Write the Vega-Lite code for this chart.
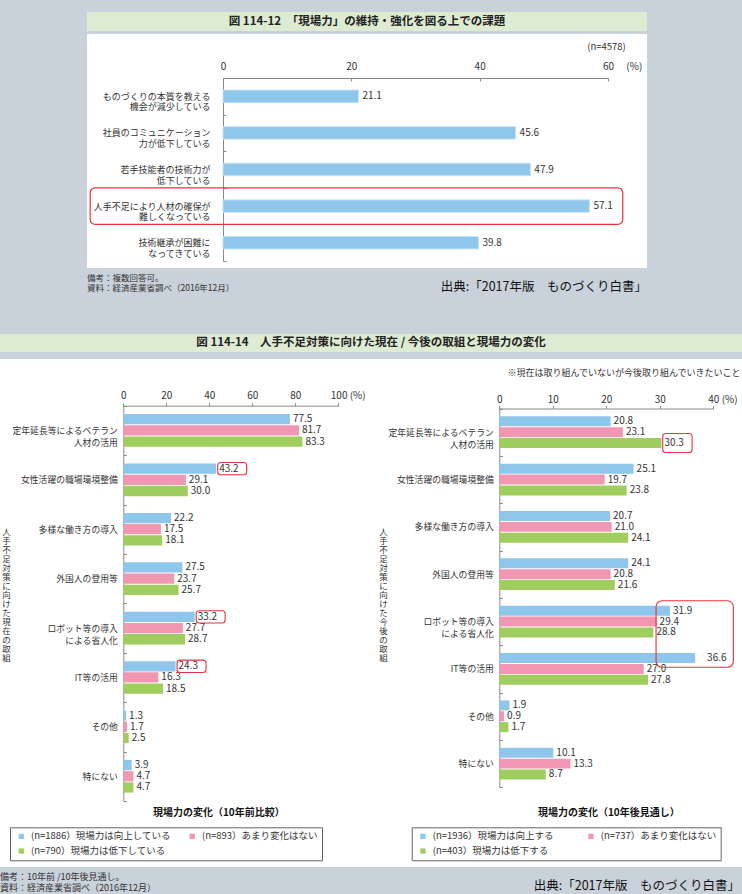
{
  "$schema": "https://vega.github.io/schema/vega-lite/v6.json",
  "background": "#c9d1da",
  "padding": {"left": 0, "top": 12, "right": 0, "bottom": 3},
  "config": {
    "font": "Noto Sans CJK JP",
    "view": {"stroke": null},
    "axis": {"grid": false}
  },
  "datasets": {
    "top": [
      {"item": "ものづくりの本質を教える|機会が減少している", "value": 21.1},
      {"item": "社員のコミュニケーション|力が低下している", "value": 45.6},
      {"item": "若手技能者の技術力が|低下している", "value": 47.9},
      {"item": "人手不足により人材の確保が|難しくなっている", "value": 57.1},
      {"item": "技術継承が困難に|なってきている", "value": 39.8}
    ],
    "now": [
      {"item": "定年延長等によるベテラン|人材の活用", "group": "(n=1886）現場力は向上している", "value": 77.5},
      {"item": "定年延長等によるベテラン|人材の活用", "group": "(n=893）あまり変化はない", "value": 81.7},
      {"item": "定年延長等によるベテラン|人材の活用", "group": "(n=790）現場力は低下している", "value": 83.3},
      {"item": "女性活躍の職場環境整備", "group": "(n=1886）現場力は向上している", "value": 43.2},
      {"item": "女性活躍の職場環境整備", "group": "(n=893）あまり変化はない", "value": 29.1},
      {"item": "女性活躍の職場環境整備", "group": "(n=790）現場力は低下している", "value": 30.0},
      {"item": "多様な働き方の導入", "group": "(n=1886）現場力は向上している", "value": 22.2},
      {"item": "多様な働き方の導入", "group": "(n=893）あまり変化はない", "value": 17.5},
      {"item": "多様な働き方の導入", "group": "(n=790）現場力は低下している", "value": 18.1},
      {"item": "外国人の登用等", "group": "(n=1886）現場力は向上している", "value": 27.5},
      {"item": "外国人の登用等", "group": "(n=893）あまり変化はない", "value": 23.7},
      {"item": "外国人の登用等", "group": "(n=790）現場力は低下している", "value": 25.7},
      {"item": "ロボット等の導入|による省人化", "group": "(n=1886）現場力は向上している", "value": 33.2},
      {"item": "ロボット等の導入|による省人化", "group": "(n=893）あまり変化はない", "value": 27.7},
      {"item": "ロボット等の導入|による省人化", "group": "(n=790）現場力は低下している", "value": 28.7},
      {"item": "IT等の活用", "group": "(n=1886）現場力は向上している", "value": 24.3},
      {"item": "IT等の活用", "group": "(n=893）あまり変化はない", "value": 16.3},
      {"item": "IT等の活用", "group": "(n=790）現場力は低下している", "value": 18.5},
      {"item": "その他", "group": "(n=1886）現場力は向上している", "value": 1.3},
      {"item": "その他", "group": "(n=893）あまり変化はない", "value": 1.7},
      {"item": "その他", "group": "(n=790）現場力は低下している", "value": 2.5},
      {"item": "特にない", "group": "(n=1886）現場力は向上している", "value": 3.9},
      {"item": "特にない", "group": "(n=893）あまり変化はない", "value": 4.7},
      {"item": "特にない", "group": "(n=790）現場力は低下している", "value": 4.7}
    ],
    "next": [
      {"item": "定年延長等によるベテラン|人材の活用", "group": "(n=1936）現場力は向上する", "value": 20.8},
      {"item": "定年延長等によるベテラン|人材の活用", "group": "(n=737）あまり変化はない", "value": 23.1},
      {"item": "定年延長等によるベテラン|人材の活用", "group": "(n=403）現場力は低下する", "value": 30.3},
      {"item": "女性活躍の職場環境整備", "group": "(n=1936）現場力は向上する", "value": 25.1},
      {"item": "女性活躍の職場環境整備", "group": "(n=737）あまり変化はない", "value": 19.7},
      {"item": "女性活躍の職場環境整備", "group": "(n=403）現場力は低下する", "value": 23.8},
      {"item": "多様な働き方の導入", "group": "(n=1936）現場力は向上する", "value": 20.7},
      {"item": "多様な働き方の導入", "group": "(n=737）あまり変化はない", "value": 21.0},
      {"item": "多様な働き方の導入", "group": "(n=403）現場力は低下する", "value": 24.1},
      {"item": "外国人の登用等", "group": "(n=1936）現場力は向上する", "value": 24.1},
      {"item": "外国人の登用等", "group": "(n=737）あまり変化はない", "value": 20.8},
      {"item": "外国人の登用等", "group": "(n=403）現場力は低下する", "value": 21.6},
      {"item": "ロボット等の導入|による省人化", "group": "(n=1936）現場力は向上する", "value": 31.9},
      {"item": "ロボット等の導入|による省人化", "group": "(n=737）あまり変化はない", "value": 29.4},
      {"item": "ロボット等の導入|による省人化", "group": "(n=403）現場力は低下する", "value": 28.8},
      {"item": "IT等の活用", "group": "(n=1936）現場力は向上する", "value": 36.6},
      {"item": "IT等の活用", "group": "(n=737）あまり変化はない", "value": 27.0},
      {"item": "IT等の活用", "group": "(n=403）現場力は低下する", "value": 27.8},
      {"item": "その他", "group": "(n=1936）現場力は向上する", "value": 1.9},
      {"item": "その他", "group": "(n=737）あまり変化はない", "value": 0.9},
      {"item": "その他", "group": "(n=403）現場力は低下する", "value": 1.7},
      {"item": "特にない", "group": "(n=1936）現場力は向上する", "value": 10.1},
      {"item": "特にない", "group": "(n=737）あまり変化はない", "value": 13.3},
      {"item": "特にない", "group": "(n=403）現場力は低下する", "value": 8.7}
    ]
  },
  "bounds": "full",
  "spacing": 41,
  "vconcat": [
    {
      "bounds": "full",
      "spacing": 0,
      "title": {"text": "出典:「2017年版　ものづくり白書」", "orient": "bottom", "anchor": "end", "frame": "bounds", "offset": -12, "fontSize": 12.5, "fontWeight": "normal", "color": "#111"},
      "hconcat": [
        {
          "width": 87, "height": 10,
          "view": {"stroke": null},
          "data": {"values": [{}]},
          "mark": {"type": "point", "opacity": 0}
        },
        {
          "bounds": "flush",
          "spacing": 3,
          "vconcat": [
            {
              "width": 560, "height": 19,
              "view": {"fill": "#ddebd2", "stroke": null},
              "data": {"values": [{"t": "図 114-12　「現場力」の維持・強化を図る上での課題"}]},
              "mark": {"type": "text", "fontSize": 11.5, "fontWeight": "bold", "color": "#222"},
              "encoding": {"text": {"field": "t", "type": "nominal"}}
            },
            {
              "width": 560, "height": 234,
              "view": {"fill": "white", "stroke": null},
              "data": {"name": "top"},
              "title": {"text": ["備考：複数回答可。", "資料：経済産業省調べ（2016年12月）"], "orient": "bottom", "anchor": "start", "frame": "group", "offset": 6, "fontSize": 8.5, "fontWeight": "normal", "color": "#333", "lineHeight": 10},
              "layer": [
                {
                  "mark": {"type": "bar", "size": 12.4, "color": "#8fc6ec", "stroke": "#bfe0f6", "strokeWidth": 1},
                  "encoding": {
                    "y": {
                      "field": "item", "type": "nominal", "sort": null,
                      "scale": {"domain": ["ものづくりの本質を教える|機会が減少している", "社員のコミュニケーション|力が低下している", "若手技能者の技術力が|低下している", "人手不足により人材の確保が|難しくなっている", "技術継承が困難に|なってきている"], "range": [44, 227], "paddingInner": 0, "paddingOuter": 0},
                      "axis": {"orient": "left", "offset": -136, "domainColor": "#8a8a8a", "tickBand": "extent", "tickSize": -3, "tickColor": "#8a8a8a", "labelFontSize": 9, "labelColor": "#333", "labelPadding": 16, "labelLineHeight": 10.5, "labelExpr": "split(datum.label, '|')", "labelLimit": 220,
                        "title": "(n=4578)", "titleAngle": 0, "titleX": 402.3, "titleY": 12, "titleAlign": "right", "titleBaseline": "middle", "titleFontSize": 9.5, "titleFontWeight": "normal", "titleColor": "#333"}
                    },
                    "x": {
                      "field": "value", "type": "quantitative",
                      "scale": {"domain": [0, 60], "range": [136, 521], "nice": false},
                      "axis": {"orient": "top", "offset": -44, "values": [0, 20, 40, 60], "domainColor": "#8a8a8a", "tickSize": -3, "tickColor": "#8a8a8a", "labelFontSize": 10, "labelColor": "#333", "labelPadding": 9.7, "labelFlush": false, "labelOverlap": false,
                        "labelExpr": "datum.value == 60 ? '60　 (%)' : datum.label",
                        "labelAlign": {"condition": {"test": "datum.value == 60", "value": "left"}, "value": "center"},
                        "labelOffset": {"condition": {"test": "datum.value == 60", "value": -5.5}, "value": 0},
                        "title": null}
                    }
                  }
                },
                {
                  "mark": {"type": "text", "align": "left", "baseline": "middle", "dx": 4, "fontSize": 10, "color": "#333"},
                  "encoding": {
                    "y": {"field": "item", "type": "nominal", "sort": null},
                    "x": {"field": "value", "type": "quantitative"},
                    "text": {"field": "value", "type": "quantitative", "format": ".1f"}
                  }
                },
                {
                  "data": {"values": [{}]},
                  "mark": {"type": "rect", "fill": "transparent", "stroke": "#e5333f", "strokeWidth": 1.2, "cornerRadius": 5},
                  "encoding": {
                    "y": {"datum": "人手不足により人材の確保が|難しくなっている", "type": "nominal"},
                    "x": {"datum": -20.7, "type": "quantitative"},
                    "x2": {"datum": 62.3}
                  }
                }
              ]
            }
          ]
        }
      ]
    },
    {
      "bounds": "full",
      "spacing": 3,
      "vconcat": [
        {
          "width": 742, "height": 18,
          "view": {"fill": "#ddebd2", "stroke": null},
          "data": {"values": [{"t": "図 114-14　人手不足対策に向けた現在 / 今後の取組と現場力の変化"}]},
          "mark": {"type": "text", "fontSize": 11.5, "fontWeight": "bold", "color": "#222"},
          "encoding": {"text": {"field": "t", "type": "nominal"}}
        },
        {
          "bounds": "flush",
          "spacing": 0,
          "title": {"text": "※現在は取り組んでいないが今後取り組んでいきたいこと", "orient": "top", "anchor": "end", "frame": "bounds", "offset": -22.5, "dx": -1.5, "fontSize": 9, "fontWeight": "normal", "color": "#333"},
          "resolve": {"scale": {"color": "independent", "x": "independent", "y": "independent", "yOffset": "independent"}},
          "hconcat": [
            {
              "width": 371, "height": 508,
              "view": {"fill": "white", "stroke": null},
              "data": {"name": "now"},
              "title": {"text": ["備考：10年前 /10年後見通し。", "資料：経済産業省調べ（2016年12月）"], "orient": "bottom", "anchor": "start", "frame": "group", "offset": 6, "fontSize": 9, "fontWeight": "normal", "color": "#333", "lineHeight": 10.5},
              "layer": [
                {
                  "mark": {"type": "bar"},
                  "encoding": {
                    "y": {
                      "field": "item", "type": "nominal", "sort": null,
                      "scale": {"domain": ["定年延長等によるベテラン|人材の活用", "女性活躍の職場環境整備", "多様な働き方の導入", "外国人の登用等", "ロボット等の導入|による省人化", "IT等の活用", "その他", "特にない"], "range": [46.7, 442], "paddingInner": 0, "paddingOuter": 0},
                      "axis": {"orient": "left", "offset": -123.3, "domainColor": "#8a8a8a", "tickBand": "extent", "tickSize": -3, "tickColor": "#8a8a8a", "labelFontSize": 8.8, "labelColor": "#333", "labelPadding": 9, "labelLineHeight": 12, "labelExpr": "split(datum.label, '|')", "labelLimit": 220,
                        "title": ["人", "手", "不", "足", "対", "策", "に", "向", "け", "た", "現", "在", "の", "取", "組"], "titleAngle": 0, "titleX": -117.3, "titleY": 168, "titleAlign": "center", "titleBaseline": "top", "titleFontSize": 8.5, "titleLineHeight": 9, "titleFontWeight": "normal", "titleColor": "#333"}
                    },
                    "yOffset": {"field": "group", "type": "nominal", "sort": null, "scale": {"domain": ["(n=1886）現場力は向上している", "(n=893）あまり変化はない", "(n=790）現場力は低下している"], "paddingInner": 0.08, "paddingOuter": 0.75}},
                    "x": {
                      "field": "value", "type": "quantitative",
                      "scale": {"domain": [0, 100], "range": [123.3, 338.3], "nice": false},
                      "axis": {"orient": "top", "offset": -46.7, "values": [0, 20, 40, 60, 80, 100], "domainColor": "#8a8a8a", "tickSize": 3, "tickColor": "#8a8a8a", "labelFontSize": 10, "labelColor": "#333", "labelPadding": 2.7, "labelFlush": false, "labelOverlap": false,
                        "labelExpr": "datum.value == 100 ? '100  (%)' : datum.label",
                        "labelAlign": {"condition": {"test": "datum.value == 100", "value": "left"}, "value": "center"},
                        "labelOffset": {"condition": {"test": "datum.value == 100", "value": -8}, "value": 0},
                        "title": "現場力の変化（10年前比較）", "titleX": 218.3, "titleY": 406.6, "titleAngle": 0, "titleAlign": "center", "titleBaseline": "middle", "titleFontSize": 10, "titleFontWeight": "bold", "titleColor": "#111"}
                    },
                    "color": {
                      "field": "group", "type": "nominal", "sort": null,
                      "scale": {"domain": ["(n=1886）現場力は向上している", "(n=893）あまり変化はない", "(n=790）現場力は低下している"], "range": ["#8fc6ec", "#f297b3", "#9fcd5e"]},
                      "legend": {"orient": "none", "legendX": 10, "legendY": 468.3, "direction": "horizontal", "title": " ", "titleOrient": "left", "titlePadding": 2.5, "titleFontSize": 10, "columns": 2, "symbolType": "square", "symbolSize": 28, "symbolStrokeWidth": 0, "labelFontSize": 9.5, "labelColor": "#333", "labelLimit": 300, "labelOffset": 5, "columnPadding": 16, "rowPadding": 4, "padding": 4, "strokeColor": "#666", "fillColor": "white"}
                    }
                  }
                },
                {
                  "mark": {"type": "text", "align": "left", "baseline": "middle", "dx": 3, "fontSize": 10, "color": "#333"},
                  "encoding": {
                    "y": {"field": "item", "type": "nominal", "sort": null},
                    "yOffset": {"field": "group", "type": "nominal", "sort": null},
                    "x": {"field": "value", "type": "quantitative"},
                    "text": {"field": "value", "type": "quantitative", "format": ".1f"}
                  }
                },
                {
                  "transform": [{"filter": "datum.group == '(n=1886）現場力は向上している' && (datum.item == '女性活躍の職場環境整備' || datum.item == 'ロボット等の導入|による省人化' || datum.item == 'IT等の活用')"}],
                  "mark": {"type": "rect", "fill": "transparent", "stroke": "#e5333f", "strokeWidth": 1.1, "cornerRadius": 3, "height": 12.3, "xOffset": 1.5, "x2Offset": 30.5},
                  "encoding": {
                    "y": {"field": "item", "type": "nominal", "sort": null},
                    "yOffset": {"field": "group", "type": "nominal", "sort": null},
                    "x": {"field": "value", "type": "quantitative"},
                    "x2": {"field": "value"}
                  }
                }
              ]
            },
            {
              "width": 371, "height": 508,
              "view": {"fill": "white", "stroke": null},
              "data": {"name": "next"},
              "title": {"text": "出典:「2017年版　ものづくり白書」", "orient": "bottom", "anchor": "end", "frame": "group", "offset": 13, "dx": -2, "fontSize": 12.5, "fontWeight": "normal", "color": "#111"},
              "layer": [
                {
                  "mark": {"type": "bar"},
                  "encoding": {
                    "y": {
                      "field": "item", "type": "nominal", "sort": null,
                      "scale": {"domain": ["定年延長等によるベテラン|人材の活用", "女性活躍の職場環境整備", "多様な働き方の導入", "外国人の登用等", "ロボット等の導入|による省人化", "IT等の活用", "その他", "特にない"], "range": [49.5, 428.3], "paddingInner": 0, "paddingOuter": 0},
                      "axis": {"orient": "left", "offset": -128.3, "domainColor": "#8a8a8a", "tickBand": "extent", "tickSize": -3, "tickColor": "#8a8a8a", "labelFontSize": 8.8, "labelColor": "#333", "labelPadding": 9, "labelLineHeight": 12, "labelExpr": "split(datum.label, '|')", "labelLimit": 220,
                        "title": ["人", "手", "不", "足", "対", "策", "に", "向", "け", "た", "今", "後", "の", "取", "組"], "titleAngle": 0, "titleX": -116.3, "titleY": 168, "titleAlign": "center", "titleBaseline": "top", "titleFontSize": 8.5, "titleLineHeight": 9, "titleFontWeight": "normal", "titleColor": "#333"}
                    },
                    "yOffset": {"field": "group", "type": "nominal", "sort": null, "scale": {"domain": ["(n=1936）現場力は向上する", "(n=737）あまり変化はない", "(n=403）現場力は低下する"], "paddingInner": 0.08, "paddingOuter": 0.72}},
                    "x": {
                      "field": "value", "type": "quantitative",
                      "scale": {"domain": [0, 40], "range": [128.3, 342.3], "nice": false},
                      "axis": {"orient": "top", "offset": -49.5, "values": [0, 10, 20, 30, 40], "domainColor": "#8a8a8a", "tickSize": 3, "tickColor": "#8a8a8a", "labelFontSize": 10, "labelColor": "#333", "labelPadding": 1, "labelFlush": false, "labelOverlap": false,
                        "labelExpr": "datum.value == 40 ? '40   (%)' : datum.label",
                        "labelAlign": {"condition": {"test": "datum.value == 40", "value": "left"}, "value": "center"},
                        "labelOffset": {"condition": {"test": "datum.value == 40", "value": -5.5}, "value": 0},
                        "title": "現場力の変化（10年後見通し）", "titleX": 237.3, "titleY": 403.8, "titleAngle": 0, "titleAlign": "center", "titleBaseline": "middle", "titleFontSize": 10, "titleFontWeight": "bold", "titleColor": "#111"}
                    },
                    "color": {
                      "field": "group", "type": "nominal", "sort": null,
                      "scale": {"domain": ["(n=1936）現場力は向上する", "(n=737）あまり変化はない", "(n=403）現場力は低下する"], "range": ["#8fc6ec", "#f297b3", "#9fcd5e"]},
                      "legend": {"orient": "none", "legendX": 40.7, "legendY": 468.3, "direction": "horizontal", "title": " ", "titleOrient": "left", "titlePadding": 2.5, "titleFontSize": 10, "columns": 2, "symbolType": "square", "symbolSize": 28, "symbolStrokeWidth": 0, "labelFontSize": 9.5, "labelColor": "#333", "labelLimit": 300, "labelOffset": 5, "columnPadding": 32, "rowPadding": 4, "padding": 4, "strokeColor": "#666", "fillColor": "white"}
                    }
                  }
                },
                {
                  "transform": [{"filter": "!(datum.item == 'IT等の活用' && datum.group == '(n=1936）現場力は向上する')"}],
                  "mark": {"type": "text", "align": "left", "baseline": "middle", "dx": 3, "fontSize": 10, "color": "#333"},
                  "encoding": {
                    "y": {"field": "item", "type": "nominal", "sort": null},
                    "yOffset": {"field": "group", "type": "nominal", "sort": null},
                    "x": {"field": "value", "type": "quantitative"},
                    "text": {"field": "value", "type": "quantitative", "format": ".1f"}
                  }
                },
                {
                  "transform": [{"filter": "datum.item == 'IT等の活用' && datum.group == '(n=1936）現場力は向上する'"}],
                  "mark": {"type": "text", "align": "left", "baseline": "middle", "dx": 12, "fontSize": 10, "color": "#333"},
                  "encoding": {
                    "y": {"field": "item", "type": "nominal", "sort": null},
                    "yOffset": {"field": "group", "type": "nominal", "sort": null},
                    "x": {"field": "value", "type": "quantitative"},
                    "text": {"field": "value", "type": "quantitative", "format": ".1f"}
                  }
                },
                {
                  "transform": [{"filter": "datum.group == '(n=403）現場力は低下する' && datum.item == '定年延長等によるベテラン|人材の活用'"}],
                  "mark": {"type": "rect", "fill": "transparent", "stroke": "#e5333f", "strokeWidth": 1.1, "cornerRadius": 3, "height": 19, "xOffset": 1.3, "x2Offset": 30.7},
                  "encoding": {
                    "y": {"field": "item", "type": "nominal", "sort": null},
                    "yOffset": {"field": "group", "type": "nominal", "sort": null},
                    "x": {"field": "value", "type": "quantitative"},
                    "x2": {"field": "value"}
                  }
                },
                {
                  "data": {"values": [{}]},
                  "mark": {"type": "rect", "fill": "transparent", "stroke": "#e5333f", "strokeWidth": 1.1, "cornerRadius": 6, "yOffset": 2.8, "y2Offset": 22},
                  "encoding": {
                    "y": {"datum": "ロボット等の導入|による省人化", "type": "nominal", "bandPosition": 0},
                    "y2": {"datum": "IT等の活用", "bandPosition": 0},
                    "x": {"datum": 29.3, "type": "quantitative"},
                    "x2": {"datum": 43.75}
                  }
                }
              ]
            }
          ]
        }
      ]
    }
  ]
}
